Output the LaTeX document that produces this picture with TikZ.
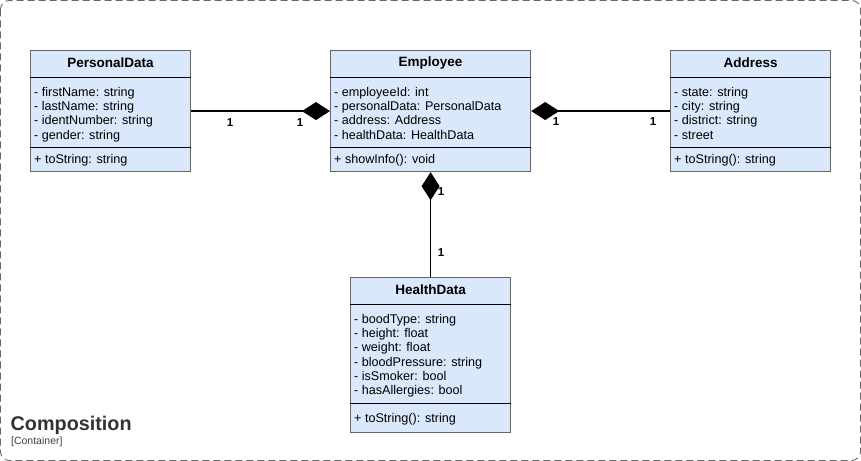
\documentclass[tikz,border=0pt]{standalone}
\usepackage{fontspec}
\setmainfont{Liberation Sans}
\usetikzlibrary{arrows.meta,calc}

\definecolor{boxfill}{HTML}{DAE8FC}
\definecolor{boxline}{HTML}{666666}

\tikzset{
	umlbox/.style={draw=boxline, fill=boxfill, line width=1.2pt, inner sep=0pt},
	umlsep/.style={draw=black, line width=0.8pt},
	umltitle/.style={font=\fontsize{13.5}{15}\selectfont\bfseries, inner sep=0pt},
	umltext/.style={font=\fontsize{12.6}{14.3}\selectfont, align=left, inner sep=0pt},
	compose/.style={line width=1.6pt, -{Diamond[length=28pt,width=18pt]}},
	mult/.style={font=\fontsize{11.5}{13}\selectfont\bfseries, inner sep=0pt},
}

% #1 name, #2 top left, #3 width, #4 attribute part, #5 height, #6 title, #7 attributes, #8 methods
\newcommand{\umlclass}[8]{%
	\node[umlbox, anchor=north west, minimum width=#3pt, minimum height=#5pt] (#1) at (#2) {};
	\draw[umlsep] ($(#1.north west)+(0,27)$) -- ($(#1.north east)+(0,27)$);
	\draw[umlsep] ($(#1.north west)+(0,27+#4)$) -- ($(#1.north east)+(0,27+#4)$);
	\node[umltitle] (#1-title) at ($(#1.north)+(0,13)$) {#6};
	\node[umltext, anchor=north west] (#1-attr) at ($(#1.north west)+(4,37)$) {#7};
	\node[umltext, anchor=west] (#1-op) at ($(#1.north west)+(4,{27+#4+(#5-27-#4)/2+1.5})$) {#8};
}

\begin{document}
\begin{tikzpicture}[x=1pt, y=-1pt]

	% container
	\draw[boxline, line width=0.9pt, dash pattern=on 7pt off 4pt, rounded corners=9pt] (0.5,0.5) rectangle (860.5,460.5);
	\node[anchor=west, inner sep=0pt, font=\fontsize{19.8}{22}\selectfont\bfseries, text=black!80] (title) at (10.5,425) {Composition};
	\node[anchor=west, inner sep=0pt, font=\fontsize{10.5}{12}\selectfont, text=black!75] (kind) at (11,442) {[Container]};

	\umlclass{personal}{30,50}{160}{70}{121}{PersonalData}
		{- firstName: string\\- lastName: string\\- identNumber: string\\- gender: string}
		{+ toString: string}
	\umlclass{employee}{330,50}{200}{70}{121}{Employee}
		{- employeeId: int\\- personalData: PersonalData\\- address: Address\\- healthData: HealthData}
		{+ showInfo(): void}
	\umlclass{address}{670,50}{160}{70}{121}{Address}
		{- state: string\\- city: string\\- district: string\\- street}
		{+ toString(): string}
	\umlclass{health}{350,277}{160}{99}{155}{HealthData}
		{- boodType: string\\- height: float\\- weight: float\\- bloodPressure: string\\- isSmoker: bool\\- hasAllergies: bool}
		{+ toString(): string}

	% compositions
	\draw[compose] (personal.east) -- (employee.west);
	\draw[compose] (address.west) -- (employee.east);
	\draw[compose] (health.north) -- (employee.south);

	\node[mult] (m1) at (230,123) {1};
	\node[mult] (m2) at (300,123) {1};
	\node[mult] (m3) at (556,122) {1};
	\node[mult] (m4) at (653,122) {1};
	\node[mult] (m5) at (441,192) {1};
	\node[mult] (m6) at (441,253) {1};

\end{tikzpicture}
\end{document}
